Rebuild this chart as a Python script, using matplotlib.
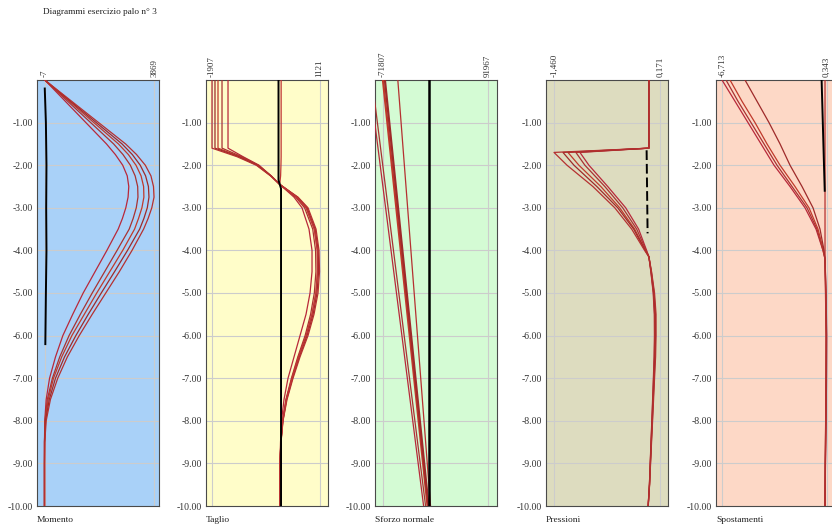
import matplotlib.pyplot as plt

plt.rcParams['font.family'] = ['Liberation Serif', 'DejaVu Serif']

title = 'Diagrammi esercizio palo n° 3'
panel_names = ['Momento', 'Taglio', 'Sforzo normale', 'Pressioni', 'Spostamenti']
range_labels = [('-7', '3869'), ('-1907', '1121'), ('-71807', '91967'),
                ('-1,460', '0,171'), ('-6,713', '0,343')]
range_values = [(-7, 3869), (-1907, 1121), (-71807, 91967), (-1.460, 0.171), (-6.713, 0.343)]
depth_ticks = [-1, -2, -3, -4, -5, -6, -7, -8, -9, -10]

# --- Momento ---
depth_m = [0, -0.5, -1, -1.5, -1.75, -2, -2.25, -2.5, -2.75, -3, -3.25, -3.5, -4, -4.5,
           -5, -5.5, -6, -6.5, -7, -7.5, -8, -8.5, -9, -10]
momento = [
    [0, 728, 1456, 2184, 2500, 2760, 2920, 2975, 2950, 2870, 2750, 2600, 2200, 1780,
     1360, 990, 640, 380, 170, 50, 0, -10, -10, -10],
    [0, 812, 1625, 2437, 2770, 3030, 3200, 3290, 3300, 3240, 3130, 2990, 2560, 2120,
     1680, 1260, 860, 530, 270, 90, 10, -10, -10, -10],
    [0, 869, 1738, 2607, 2960, 3230, 3410, 3500, 3510, 3440, 3320, 3180, 2760, 2300,
     1840, 1400, 960, 600, 310, 120, 15, -10, -10, -10],
    [0, 912, 1823, 2735, 3100, 3380, 3570, 3670, 3690, 3630, 3510, 3360, 2930, 2470,
     2000, 1540, 1100, 700, 380, 160, 30, -5, -10, -10],
    [0, 954, 1907, 2861, 3250, 3560, 3760, 3850, 3869, 3790, 3660, 3500, 3090, 2640,
     2160, 1680, 1220, 800, 460, 200, 50, 0, -10, -10],
]
momento_black_z = [-0.2, -1, -2, -3, -4, -5, -6.2]
momento_black = [0, 40, 60, 50, 60, 40, 20]

# --- Taglio ---
depth_t = [0, -1.6, -1.8, -2.0, -2.25, -2.45, -2.75, -3, -3.5, -4, -4.5, -5, -5.5,
           -6, -6.5, -7, -7.5, -8, -8.5, -9, -10]
taglio = [
    [-1456, -1456, -1034, -583, -245, 0, 403, 628, 825, 910, 910, 854, 741, 572, 403,
     234, 121, 51, 23, 8, 8],
    [-1625, -1625, -1070, -600, -240, 0, 450, 700, 930, 1010, 1020, 975, 870, 715, 510,
     330, 175, 80, 30, 8, 8],
    [-1738, -1738, -1110, -620, -245, 0, 480, 745, 975, 1060, 1065, 1020, 910, 745, 530,
     345, 185, 85, 33, 8, 8],
    [-1823, -1823, -1150, -640, -250, 0, 500, 770, 1000, 1085, 1095, 1050, 940, 770, 550,
     360, 195, 90, 35, 8, 8],
    [-1907, -1907, -1203, -660, -260, 0, 516, 797, 1023, 1107, 1121, 1079, 966, 797, 572,
     375, 206, 93, 37, 8, 8],
    [40, 40, 40, 35, 25, 0, 480, 745, 975, 1060, 1065, 1020, 910, 745, 530,
     345, 185, 85, 33, 8, 8],
]
taglio_black_z = [0, -2.35, -2.55, -10]
taglio_black = [-34, -34, 37, 37]

# --- Sforzo normale ---
depth_n = [0, -10]
sforzo = [
    [-93000, -8460],
    [-88800, -5370],
    [-71807, -2280],
    [-68720, -740],
    [-48630, 2350],
]
sforzo_black_z = [0, -10]
sforzo_black = [-740, -740]

# --- Pressioni ---
depth_p = [0, -1.6, -1.7, -2, -2.5, -3, -3.5, -4, -4.15, -4.5, -5, -5.5, -6, -6.5,
           -7, -7.5, -8, -8.5, -9, -9.5, -10]
pressioni = [
    [0, 0, -1.061, -0.923, -0.633, -0.357, -0.158, -0.035, 0, 0.030, 0.066, 0.083,
     0.085, 0.080, 0.069, 0.057, 0.045, 0.032, 0.020, 0.008, -0.012],
    [0, 0, -1.123, -0.985, -0.678, -0.403, -0.188, -0.043, 0, 0.032, 0.070, 0.088,
     0.090, 0.084, 0.072, 0.060, 0.047, 0.034, 0.021, 0.008, -0.011],
    [0, 0, -1.245, -1.077, -0.740, -0.449, -0.219, -0.051, 0, 0.035, 0.075, 0.094,
     0.096, 0.090, 0.077, 0.064, 0.050, 0.036, 0.022, 0.009, -0.010],
    [0, 0, -1.322, -1.153, -0.801, -0.479, -0.234, -0.058, 0, 0.038, 0.080, 0.100,
     0.102, 0.095, 0.081, 0.067, 0.053, 0.038, 0.024, 0.010, -0.010],
    [0, 0, -1.460, -1.260, -0.862, -0.525, -0.265, -0.066, 0, 0.041, 0.087, 0.110,
     0.110, 0.103, 0.087, 0.072, 0.057, 0.041, 0.026, 0.011, -0.012],
]
pressioni_black_z = [-1.65, -3.6]
pressioni_black = [-0.035, -0.02]

# --- Spostamenti ---
depth_d = [0, -0.5, -1, -1.5, -2, -2.5, -3, -3.5, -4, -4.2, -5, -6, -7, -8, -9, -10]
spostamenti = [
    [-6.713, -5.836, -4.960, -4.084, -3.208, -2.130, -1.119, -0.377, 0.094, 0.229,
     0.30, 0.343, 0.33, 0.30, 0.26, 0.23],
    [-6.442, -5.634, -4.758, -3.882, -3.006, -1.995, -0.984, -0.310, 0.094, 0.229,
     0.29, 0.33, 0.32, 0.29, 0.255, 0.23],
    [-6.173, -5.364, -4.488, -3.679, -2.803, -1.793, -0.849, -0.243, 0.128, 0.229,
     0.28, 0.32, 0.31, 0.28, 0.25, 0.23],
    [-5.162, -4.353, -3.545, -2.803, -2.130, -1.321, -0.580, -0.108, 0.162, 0.229,
     0.27, 0.31, 0.30, 0.275, 0.245, 0.23],
    [0.229, 0.229, 0.229, 0.229, 0.229, 0.229, 0.229, 0.229, 0.229, 0.229,
     0.26, 0.30, 0.29, 0.27, 0.245, 0.23],
]
spost_black_z = [0, -1, -2, -2.6]
spost_black = [0, 0.08, 0.16, 0.21]

panels = [
    (depth_m, momento, momento_black_z, momento_black),
    (depth_t, taglio, taglio_black_z, taglio_black),
    (depth_n, sforzo, sforzo_black_z, sforzo_black),
    (depth_p, pressioni, pressioni_black_z, pressioni_black),
    (depth_d, spostamenti, spost_black_z, spost_black),
]

# layout / style
bg_colors = ['#a9d1f8', '#fffdc9', '#d4fbd4', '#dddcbf', '#fdd8c6']
x_limits = [(-275, 4045), (-2076, 1360), (-84170, 105870), (-1.583, 0.294), (-7.117, 1.104)]
lefts_px = [37, 206, 375, 546, 716]
reds = ['#b8283a', '#a83232', '#c0392b', '#9e2a2a', '#b53030', '#c03535']
W, H = 832, 528

fig = plt.figure(figsize=(W / 100, H / 100), dpi=100)
fig.text(43 / W, 1 - 12 / H, title, ha='left', va='center', fontsize=6.7, color='#222222')

for i, (z, curves, bz, bv) in enumerate(panels):
    ax = fig.add_axes([lefts_px[i] / W, 22 / H, 122 / W, 426 / H])
    ax.set_facecolor(bg_colors[i])
    ax.set_xlim(*x_limits[i])
    ax.set_ylim(-10, 0)

    for d in depth_ticks[:-1]:
        ax.axhline(d, color='#cccccc', lw=0.8, zorder=1)
    for v in range_values[i]:
        ax.axvline(v, color='#cccccc', lw=0.8, zorder=1)

    for j, vals in enumerate(curves):
        lw = 1.6 if (i == 2 and j in (2, 3)) else 0.9
        ax.plot(vals, z, color=reds[j % len(reds)], lw=lw, zorder=3)
    if i == 3:
        ax.plot(bv, bz, color='black', lw=1.4, ls=(0, (5, 2)), zorder=4)
    else:
        ax.plot(bv, bz, color='black', lw=1.8 if i == 2 else 1.4, zorder=4)

    ax.set_yticks(depth_ticks)
    ax.set_yticklabels([f'{d:.2f}' for d in depth_ticks])
    ax.set_xticks([])
    ax.tick_params(axis='y', length=0, pad=3, labelsize=7, labelcolor='#333333')
    for s in ax.spines.values():
        s.set_color('#4a4a4a')
        s.set_linewidth(0.8)

    for v, lab in zip(range_values[i], range_labels[i]):
        ax.text(v, 1.008, lab, transform=ax.get_xaxis_transform(), rotation=90,
                ha='center', va='bottom', fontsize=6.5, color='#333333')
    ax.text(0, -0.024, panel_names[i], transform=ax.transAxes, ha='left', va='top',
            fontsize=6.8, color='#222222')

fig.savefig('out.png', dpi=100)
